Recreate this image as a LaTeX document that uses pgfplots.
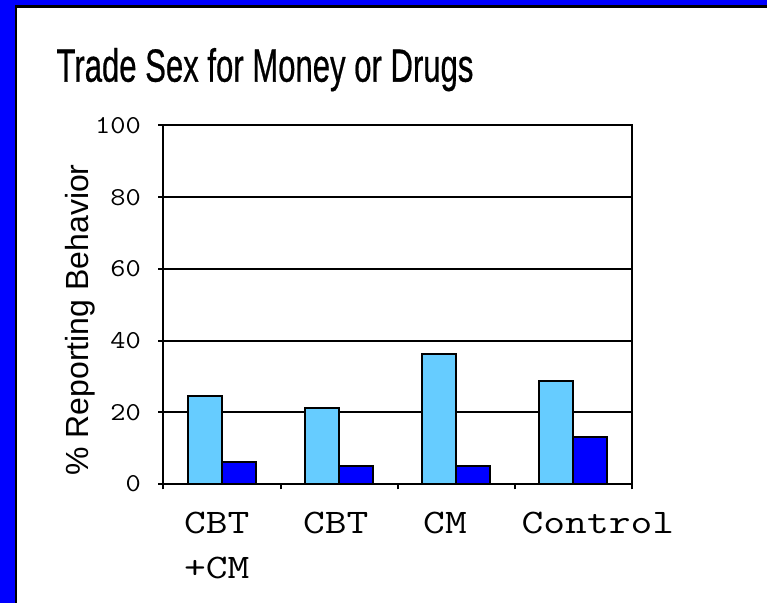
\documentclass[border=0pt]{standalone}
\usepackage{fontspec}
\setmainfont{Liberation Sans}
\newfontfamily\titlefont[FakeBold=0.7]{Liberation Sans}
\usepackage{graphicx}
\usepackage{pgfplots}
\pgfplotsset{compat=1.18}
\definecolor{lightbar}{HTML}{66CCFF}
\definecolor{darkbar}{HTML}{0000FF}
\begin{document}
\begin{tikzpicture}
\useasboundingbox (0,0) rectangle (575.25pt,452.25pt);
\fill[darkbar] (0,0) rectangle (575.25pt,452.25pt);
\fill[black] (11.25pt,0) rectangle (575.25pt,448.25pt);
\fill[white] (13.1pt,0) rectangle (575.25pt,446pt);
\node[anchor=base, inner sep=0pt] at (198.75pt,391pt) {\scalebox{0.668}[1]{\titlefont\fontsize{34.9pt}{40pt}\selectfont Trade Sex for Money or Drugs}};
\begin{axis}[
  at={(122.5pt,89.25pt)}, anchor=south west,
  scale only axis, width=351.5pt, height=268.9pt,
  xmin=-0.5, xmax=3.5, ymin=0, ymax=100,
  ytick={0,20,40,60,80,100},
  /pgf/number format/assume math mode=true,
  ymajorgrids, grid style={black, line width=1.5pt},
  axis line style={line width=1.5pt},
  tick align=outside, tick pos=left,
  major tick length=4pt,
  tick style={black, line width=1.5pt},
  xtick={-0.5,0.5,1.5,2.5,3.5},
  xticklabels={},
  extra x ticks={-0.044,0.972,1.904,3.209},
  extra x tick labels={{\strut CBT\\\strut +CM},\strut CBT,\strut CM,\strut Control},
  extra x tick style={major tick length=0pt},
  xticklabel style={font=\ttfamily\fontsize{25.8pt}{33.75pt}\selectfont, xscale=1.23, align=left, anchor=north, inner sep=0pt, yshift=-13pt},
  yticklabel style={font=\ttfamily\fontsize{19.3pt}{22pt}\selectfont, xscale=1.15, anchor=east, inner sep=0pt, xshift=-11pt},
  ylabel={\% Reporting Behavior},
  every axis y label/.style={at={(axis description cs:-0.16,0.4575)}, rotate=90, anchor=base, inner sep=0pt, font=\fontsize{24pt}{27pt}\selectfont},
  ybar=0pt, bar width=0.29,
  clip=false,
]
\addplot[fill=lightbar, draw=black, line width=1.5pt] coordinates {(0,24.6) (1,21.1) (2,36.3) (3,28.8)};
\addplot[fill=darkbar, draw=black, line width=1.5pt] coordinates {(0,6.0) (1,4.9) (2,4.9) (3,13.0)};
\end{axis}
\end{tikzpicture}
\end{document}
